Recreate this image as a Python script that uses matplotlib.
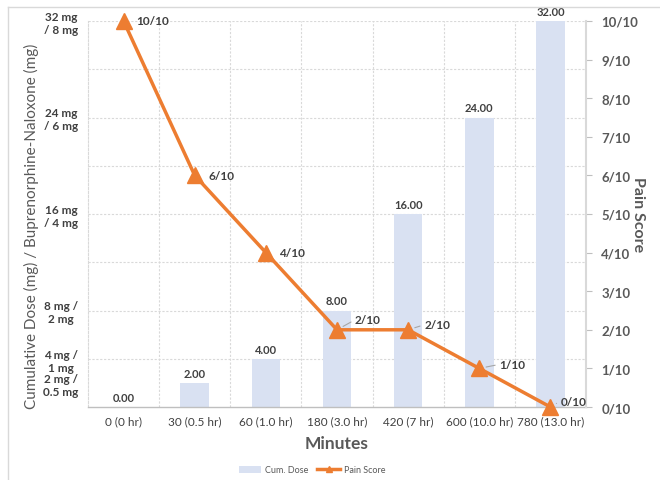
import matplotlib
matplotlib.use("Agg")
import matplotlib.pyplot as plt
from matplotlib.lines import Line2D
from matplotlib.patches import Patch

plt.rcParams['font.family'] = ['Lato', 'DejaVu Sans']

# Data
categories = ["0 (0 hr)", "30 (0.5 hr)", "60 (1.0 hr)", "180 (3.0 hr)",
              "420 (7 hr)", "600 (10.0 hr)", "780 (13.0 hr)"]
cum_dose = [0, 2, 4, 8, 16, 24, 32]
pain_score = [10, 6, 4, 2, 2, 1, 0]
dose_ticks = [2, 4, 8, 16, 24, 32]
dose_tick_labels = ["2 mg /\n0.5 mg", "4 mg /\n1 mg", "8 mg /\n2 mg",
                    "16 mg\n/ 4 mg", "24 mg\n/ 6 mg", "32 mg\n/ 8 mg"]
pain_ticks = list(range(0, 11))
pain_tick_labels = [f"{v}/10" for v in pain_ticks]

# Label placement for the pain score (offsets in pixels, leader line or not)
pain_label_offsets = [(13, 0, False), (14, 0, False), (13, 0, False),
                      (18, 10, True), (16, 5, True), (20, 4, True), (10, 6, True)]

BAR_COLOR = "#D9E1F2"
LINE_COLOR = "#ED7D31"
GRID_COLOR = "#D9D9D9"
TEXT_DARK = "#404040"
TEXT_MID = "#595959"

fig = plt.figure(figsize=(6.6, 4.81), dpi=100)
ax = fig.add_axes([88 / 660, 1 - 408 / 481, (586 - 88) / 660, (408 - 22) / 481])

x = list(range(len(categories)))
bars = ax.bar(x, cum_dose, width=0.4, color=BAR_COLOR, zorder=2)
ax.bar_label(bars, labels=[f"{v:.2f}" for v in cum_dose], padding=3,
             fontsize=8, fontweight='bold', color=TEXT_DARK)

ax.set_xlim(-0.5, len(categories) - 0.5)
ax.set_ylim(0, 32)

# Dotted grid: every 4 mg horizontally, category boundaries vertically
for g in range(4, 33, 4):
    ax.axhline(g, color=GRID_COLOR, lw=0.8, ls=(0, (2, 1.5)), zorder=1)
for b in range(1, len(categories)):
    ax.axvline(b - 0.5, color=GRID_COLOR, lw=0.8, ls=(0, (2, 1.5)), zorder=1)

ax.set_yticks(dose_ticks)
ax.set_yticklabels(dose_tick_labels, fontsize=8.5, fontweight='bold',
                   color=TEXT_DARK, multialignment='center')
ax.tick_params(axis='y', length=0, pad=7)
ax.set_xticks(x)
ax.set_xticklabels(categories, fontsize=8.5, color=TEXT_DARK)
ax.tick_params(axis='x', length=0, pad=6)

for side in ('top', 'right'):
    ax.spines[side].set_visible(False)
ax.spines['left'].set_color(GRID_COLOR)
ax.spines['left'].set_linestyle((0, (2, 1.5)))
ax.spines['left'].set_linewidth(0.8)
ax.spines['bottom'].set_color("#BFBFBF")
ax.spines['bottom'].set_linewidth(1.0)

ax.set_xlabel("Minutes", fontsize=12.5, fontweight='bold', color=TEXT_MID, labelpad=6)
ax.set_ylabel("Cumulative Dose (mg) / Buprenorphine-Naloxone (mg)",
              fontsize=11, color=TEXT_MID)
ax.yaxis.set_label_coords(-0.098, 0.47)

# Pain score on the secondary axis
ax2 = ax.twinx()
ax2.set_ylim(0, 10)
ax2.plot(x, pain_score, color=LINE_COLOR, lw=2.5, marker='^', markersize=12,
         clip_on=False, zorder=3)
ax2.set_yticks(pain_ticks)
ax2.set_yticklabels(pain_tick_labels, fontsize=9.5, fontweight='bold', color=TEXT_MID)
ax2.tick_params(axis='y', length=4, width=0.8, color="#BFBFBF", pad=7)
for side in ('top', 'left', 'bottom'):
    ax2.spines[side].set_visible(False)
ax2.spines['right'].set_color(GRID_COLOR)
ax2.spines['right'].set_linewidth(1.5)
ax2.set_ylabel("Pain Score", fontsize=11.5, fontweight='bold', color=TEXT_MID,
               rotation=270, va='center')
ax2.yaxis.set_label_coords(1.105, 0.5)

for xi, yi, (dx, dy, leader) in zip(x, pain_score, pain_label_offsets):
    txt = f"{yi}/10"
    if leader:
        ax2.annotate(txt, (xi, yi), xytext=(dx, dy), textcoords='offset pixels',
                     ha='left', va='center', fontsize=8.5, fontweight='bold',
                     color=TEXT_DARK, annotation_clip=False,
                     arrowprops=dict(arrowstyle='-', color="#A6A6A6", lw=0.8,
                                     shrinkA=1, shrinkB=5, relpos=(0, 0.5)))
    else:
        ax2.annotate(txt, (xi, yi), xytext=(dx, dy), textcoords='offset pixels',
                     ha='left', va='center', fontsize=8.5, fontweight='bold',
                     color=TEXT_DARK, annotation_clip=False)

# Legend
handles = [Patch(facecolor=BAR_COLOR, edgecolor='none', label="Cum. Dose"),
           Line2D([0], [0], color=LINE_COLOR, lw=2.5, marker='^', markersize=5,
                  label="Pain Score")]
leg = fig.legend(handles=handles, loc='center', bbox_to_anchor=(312 / 660, 1 - 471 / 481),
                 ncol=2, frameon=False, fontsize=6.5, handlelength=2.5,
                 columnspacing=1.0, handletextpad=0.4)
for t in leg.get_texts():
    t.set_color(TEXT_MID)

# Light frame around the chart
fig.add_artist(Line2D([8 / 660, 1], [1 - 8 / 481, 1 - 8 / 481],
                      transform=fig.transFigure, color="#D9D9D9", lw=1))
fig.add_artist(Line2D([8 / 660, 8 / 660], [0, 1 - 8 / 481],
                      transform=fig.transFigure, color="#D9D9D9", lw=1))

fig.savefig("out.png", dpi=100)
